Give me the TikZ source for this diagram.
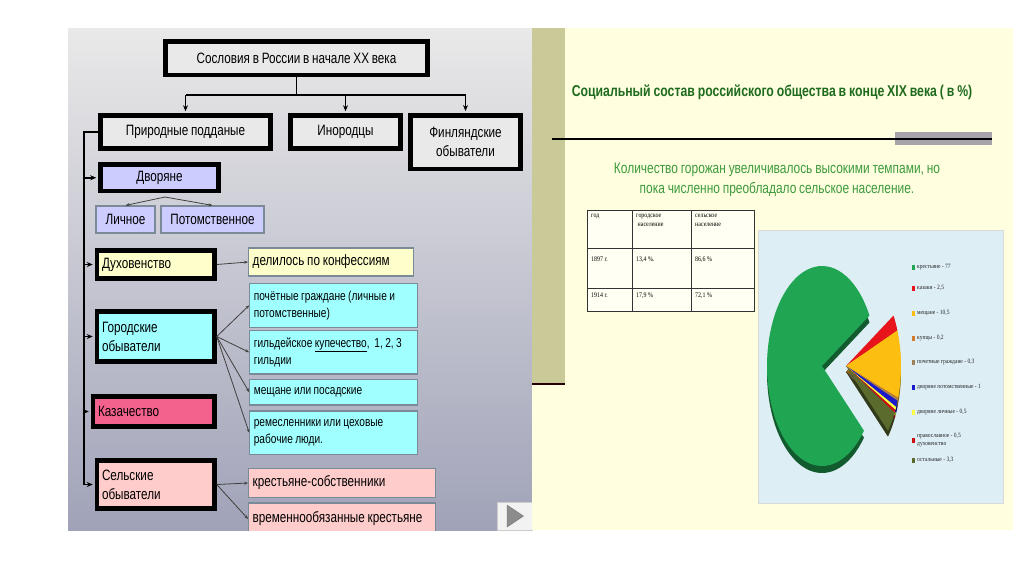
\documentclass[tikz,border=0pt]{standalone}
\usepackage{fontspec}
\usepackage{tikz}
\usetikzlibrary{arrows.meta}
\newfontfamily\boxfont[FakeStretch=0.78, WordSpace=0.85]{Liberation Sans}
\newfontfamily\tablefont[FakeStretch=0.85]{Liberation Serif}

% panel colours
\definecolor{panelgray}{HTML}{E9E9E9}
\definecolor{panelmid}{HTML}{D2D2DC}
\definecolor{panelblue}{HTML}{A0A2B8}
\definecolor{cream}{HTML}{FFFFE0}
\definecolor{khaki}{HTML}{CACA98}
\definecolor{rulegray}{HTML}{A8A2AA}
\definecolor{titlegreen}{HTML}{1E6B1E}
\definecolor{textgreen}{HTML}{3C9A3C}
\definecolor{chartblue}{HTML}{DDEEF5}
% box colours
\definecolor{lavender}{HTML}{CCCCFF}
\definecolor{paleyellow}{HTML}{FFFFCC}
\definecolor{aqua}{HTML}{A0FFFF}
\definecolor{cossackbox}{HTML}{F2628D}
\definecolor{palepink}{HTML}{FFCCCC}
\definecolor{boxedge}{HTML}{7A8A96}
% pie colours
\definecolor{peasant}{HTML}{20A653}
\definecolor{cossack}{HTML}{E8141C}
\definecolor{burgher}{HTML}{FDBE12}
\definecolor{merchant}{HTML}{D07A2C}
\definecolor{honorary}{HTML}{A0825A}
\definecolor{noblehered}{HTML}{1A1ACC}
\definecolor{noblepers}{HTML}{FFFF40}
\definecolor{clergy}{HTML}{CC1111}
\definecolor{other}{HTML}{5B6B2E}

\begin{document}
\begin{tikzpicture}[x=1pt,y=-1pt,
  bigbox/.style={draw=black, line width=4.5pt, inner xsep=5pt, inner ysep=0pt,
    font=\boxfont\fontsize{15}{19}\selectfont},
  subbox/.style={draw=boxedge, line width=1.2pt, inner xsep=4pt, inner ysep=0pt,
    font=\boxfont\fontsize{13}{17}\selectfont},
  link/.style={line width=1.5pt, -{Stealth[length=6pt,width=5pt]}},
  twig/.style={line width=0.8pt, draw=black!75, -{Stealth[length=4pt,width=3pt]}},
  cell/.style={anchor=north west, inner sep=0pt, align=flush left,
    font=\tablefont\fontsize{7}{9}\selectfont},
  legend/.style={anchor=west, inner sep=0pt, align=flush left, text=black!85,
    font=\tablefont\fontsize{6.5}{8}\selectfont}]

% Page
\fill[white] (0,0) rectangle (1024,574);

% Left panel
\shade[top color=panelgray, middle color=panelmid, bottom color=panelblue] (68,28) rectangle (532,530);

\begin{scope}
\clip (68,28) rectangle (532,530);

% Top level
\node[bigbox, fill=panelgray, minimum width=262, minimum height=33.5] (soslovia) at (296.5,58) {Сословия в России в начале XX века};
\node[bigbox, fill=panelgray, minimum width=170, minimum height=33] (prirod) at (185.5,132) {Природные подданые};
\node[bigbox, fill=panelgray, minimum width=110, minimum height=33] (inorod) at (345.5,132) {Инородцы};
\node[bigbox, fill=panelgray, minimum width=110, minimum height=53.5, align=center] (finl) at (465.5,142) {Финляндские\\обыватели};

\coordinate (split) at (296.5,95);
\draw[line width=1.5pt] (soslovia.south) -- (split);
\draw[line width=1.5pt] (prirod.north |- split) -- (finl.north |- split);
\draw[link] (prirod.north |- split) -- ([yshift=2pt]prirod.north);
\draw[link] (inorod.north |- split) -- ([yshift=2pt]inorod.north);
\draw[link] (finl.north |- split) -- ([yshift=2pt]finl.north);

% Estates of the natural subjects
\node[bigbox, fill=lavender, minimum width=118, minimum height=26.5] (dvor) at (159.5,177.75) {Дворяне};
\node[subbox, fill=lavender, minimum width=59, minimum height=27, inner xsep=1pt,
  font=\boxfont\fontsize{15}{19}\selectfont] (lichn) at (125.5,219.5) {Личное};
\node[subbox, fill=lavender, minimum width=103, minimum height=27,
  font=\boxfont\fontsize{15}{19}\selectfont] (potom) at (212.5,219.5) {Потомственное};

\node[bigbox, fill=paleyellow, minimum width=117.5, minimum height=28, text width=107.5, align=flush left] (duh) at (155.75,264.5) {Духовенство};
\node[subbox, fill=paleyellow, minimum width=165, minimum height=28, text width=157, align=flush left,
  font=\boxfont\fontsize{15}{19}\selectfont] (konf) at (331.2,262) {делилось по конфессиям};

\node[bigbox, fill=aqua, minimum width=117.5, minimum height=50, text width=107.5, align=flush left] (gorod) at (155.75,336.5) {Городские\\обыватели};
\node[subbox, fill=aqua, minimum width=168, minimum height=44, text width=160, align=flush left] (poch) at (333.8,305.3) {почётные граждане (личные и\\потомственные)};
\node[subbox, fill=aqua, minimum width=168, minimum height=43.3, text width=160, align=flush left] (gild) at (333.8,352.3) {гильдейское \underline{купечество},\ \ 1, 2, 3\\гильдии};
\node[subbox, fill=aqua, minimum width=168, minimum height=25.7, text width=160, align=flush left] (mesch) at (333.8,392.2) {мещане или посадские};
\node[subbox, fill=aqua, minimum width=168, minimum height=43.3, text width=160, align=flush left] (remes) at (333.8,432.7) {ремесленники или цеховые\\рабочие люди.};

\node[bigbox, fill=cossackbox, minimum width=121.5, minimum height=30, text width=111.5, align=flush left] (kazach) at (153.75,411.5) {Казачество};

\node[bigbox, fill=palepink, minimum width=117.5, minimum height=48, text width=107.5, align=flush left] (selsk) at (155.75,484.5) {Сельские\\обыватели};
\node[subbox, fill=palepink, minimum width=187, minimum height=29.4, text width=179, align=flush left,
  font=\boxfont\fontsize{15}{19}\selectfont] (sobstv) at (342.2,483) {крестьяне-собственники};
\node[subbox, fill=palepink, minimum width=187, minimum height=32, text width=179, align=flush left,
  font=\boxfont\fontsize{15}{19}\selectfont] (vremen) at (342.2,519) {временнообязанные крестьяне};

% Trunk on the left
\coordinate (trunktop) at (84,132);
\coordinate (trunkbot) at (84,485);
\draw[line width=1.5pt] (prirod.west) -- (trunktop) -- (trunkbot);
\foreach \n in {dvor,duh,gorod,kazach,selsk}
  \draw[link] (trunktop |- \n.west) -- ([xshift=-2pt]\n.west);

% Branches
\coordinate (dvorfork) at (165,197);
\draw[twig] (dvorfork) -- (lichn.north);
\draw[twig] (dvorfork) -- (potom.north);
\draw[twig] (duh.east) -- (konf.west);
\foreach \n in {poch,gild,mesch,remes}
  \draw[twig] (gorod.east) -- (\n.west);
\foreach \n in {sobstv,vremen}
  \draw[twig] (selsk.east) -- (\n.west);
\end{scope}

% Play button
\filldraw[fill=black!5, draw=black!20] (497,502) rectangle (532,530);
\filldraw[fill=black!45, draw=black!55] (507,505) -- (523.5,516) -- (507,527) -- cycle;

% Right panel
\fill[cream] (532,28) rectangle (1013,530);
\fill[khaki] (532,28) rectangle (565,383);
\draw[line width=2pt, black!85!red] (532,384) -- (565,384);
\fill[rulegray] (895,132) rectangle (992,145);
\draw[line width=1.5pt] (552,139) -- (992,139);

\node[font=\boxfont\bfseries\fontsize{15.7}{18}\selectfont, text=titlegreen] (charttitle) at (772,92) {Социальный состав российского общества в конце XIX века ( в \%)};
\node[font=\boxfont\fontsize{15.3}{19.5}\selectfont, text=textgreen, align=center] (subtitle) at (777,180) {Количество горожан увеличивалось высокими темпами, но\\пока численно преобладало сельское население.};

% Table
\fill[white!60!cream] (587,210) rectangle (754,311);
\draw[line width=0.8pt, black!80] (587,210) rectangle (754,311);
\draw[line width=0.8pt, black!80] (632,210) -- (632,311) (691,210) -- (691,311);
\draw[line width=0.8pt, black!80] (587,248) -- (754,248) (587,288) -- (754,288);
\node[cell] (year) at (591,214) {год};
\node[cell] (urban) at (636,214) {городское\\\ население};
\node[cell] (rural) at (695,214) {сельское\\население};
\node[cell] (y1897) at (591,257) {1897 г.};
\node[cell] (u1897) at (636,257) {13,4 \%.};
\node[cell] (r1897) at (695,257) {86,6 \%};
\node[cell] (y1914) at (591,293) {1914 г.};
\node[cell] (u1914) at (636,293) {17,9 \%};
\node[cell] (r1914) at (695,293) {72,1 \%};

% Chart area
\filldraw[fill=chartblue, draw=black!15] (758,230) rectangle (1003,503);

% Pie geometry
\def\cy{366}    % centre height
\def\rx{55}     % half width
\def\ry{100}    % half height
\def\cgreen{822}
\def\cpart{846} % pulled-out slices

% crestyane slice with its edge
\fill[peasant!55!black] (\cgreen,\cy+7) -- plot[domain=-40.3:-329.7, samples=70] ({\cgreen+\rx*cos(\x)},{\cy+7-\ry*sin(\x)}) -- cycle;
\fill[peasant] (\cgreen,\cy) -- plot[domain=-40.3:-329.7, samples=70] ({\cgreen+\rx*cos(\x)},{\cy-\ry*sin(\x)}) -- cycle;

% the other slices
\foreach \a/\b/\c in {30.3/20.9/cossack, 20.9/-18.5/burgher, -18.5/-19.3/merchant, -19.3/-20.4/honorary,
    -20.4/-24.2/noblehered, -24.2/-26.1/noblepers, -26.1/-27.9/clergy, -27.9/-40.3/other}
  \fill[fill=\c!55!black] (\cpart,\cy+6) -- plot[domain=\a:\b, samples=12] ({\cpart+\rx*cos(\x)},{\cy+6-\ry*sin(\x)}) -- cycle;
\foreach \a/\b/\c in {30.3/20.9/cossack, 20.9/-18.5/burgher, -18.5/-19.3/merchant, -19.3/-20.4/honorary,
    -20.4/-24.2/noblehered, -24.2/-26.1/noblepers, -26.1/-27.9/clergy, -27.9/-40.3/other}
  \fill[fill=\c] (\cpart,\cy) -- plot[domain=\a:\b, samples=12] ({\cpart+\rx*cos(\x)},{\cy-\ry*sin(\x)}) -- cycle;

% Legend
\foreach \y/\c/\t [count=\i] in {267/peasant/{крестьяне - 77}, 288/cossack/{казаки - 2,5},
    313/burgher/{мещане - 10,5}, 338/merchant/{купцы - 0,2}, 362/honorary/{почетные граждане - 0,3},
    387/noblehered/{дворяне потомственные - 1}, 412/noblepers/{дворяне личные - 0,5},
    440/clergy/{православное - 0,5\\духовенство}, 460/other/{остальные - 3,3}}
{
  \fill[\c] (912,\y-2.5) rectangle (915,\y+2.5);
  \node[legend] (leg\i) at (917,\y) {\t};
}
\end{tikzpicture}
\end{document}
